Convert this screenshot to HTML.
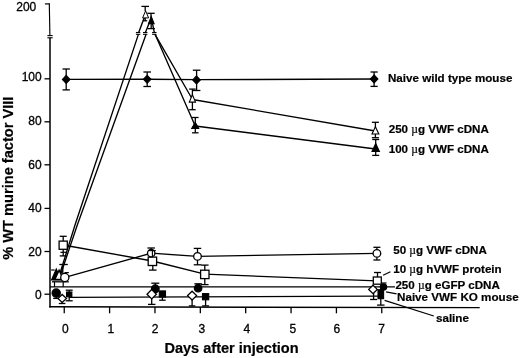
<!DOCTYPE html>
<html><head><meta charset="utf-8"><title>Chart</title>
<style>
html,body{margin:0;padding:0;background:#fff;}
body{width:520px;height:358px;overflow:hidden;font-family:"Liberation Sans",sans-serif;}
svg{display:block;will-change:transform;}
svg text{font-family:"Liberation Sans",sans-serif;fill:#000;}
</style></head><body>
<svg width="520" height="358" viewBox="0 0 520 358">
<rect width="520" height="358" fill="#fff"/>
<line x1="49.3" y1="3.6" x2="49.9" y2="35.6" stroke="#000" stroke-width="1.15"/>
<line x1="50.0" y1="37.8" x2="50.0" y2="307.6" stroke="#000" stroke-width="1.5"/>
<line x1="47.4" y1="35.6" x2="52.7" y2="35.6" stroke="#000" stroke-width="1.1"/>
<line x1="47.4" y1="37.8" x2="52.7" y2="37.8" stroke="#000" stroke-width="1.1"/>
<line x1="49.3" y1="306.8" x2="479.7" y2="307.6" stroke="#000" stroke-width="1.4"/>
<line x1="44.5" y1="294.2" x2="50.0" y2="294.2" stroke="#000" stroke-width="1.3"/>
<text x="41.7" y="298.7" font-size="12" font-weight="normal" text-anchor="end" stroke="#000" stroke-width="0.3" >0</text>
<line x1="44.5" y1="251.5" x2="50.0" y2="251.5" stroke="#000" stroke-width="1.3"/>
<text x="41.7" y="255.8" font-size="12" font-weight="normal" text-anchor="end" stroke="#000" stroke-width="0.3" >20</text>
<line x1="44.5" y1="208.4" x2="50.0" y2="208.4" stroke="#000" stroke-width="1.3"/>
<text x="41.7" y="211.6" font-size="12" font-weight="normal" text-anchor="end" stroke="#000" stroke-width="0.3" >40</text>
<line x1="44.5" y1="164.8" x2="50.0" y2="164.8" stroke="#000" stroke-width="1.3"/>
<text x="41.7" y="168.5" font-size="12" font-weight="normal" text-anchor="end" stroke="#000" stroke-width="0.3" >60</text>
<line x1="44.5" y1="121.8" x2="50.0" y2="121.8" stroke="#000" stroke-width="1.3"/>
<text x="41.7" y="124.9" font-size="12" font-weight="normal" text-anchor="end" stroke="#000" stroke-width="0.3" >80</text>
<line x1="44.5" y1="78.8" x2="50.0" y2="78.8" stroke="#000" stroke-width="1.3"/>
<text x="41.7" y="81.3" font-size="12" font-weight="normal" text-anchor="end" stroke="#000" stroke-width="0.3" >100</text>
<line x1="44.9" y1="3.9" x2="49.8" y2="3.9" stroke="#000" stroke-width="1.2"/>
<text x="36.3" y="10.6" font-size="12" font-weight="normal" text-anchor="end" stroke="#000" stroke-width="0.3" >200</text>
<line x1="64.25" y1="307" x2="64.25" y2="313.3" stroke="#000" stroke-width="1.3"/>
<text x="65.3" y="332.5" font-size="12" font-weight="normal" text-anchor="middle" stroke="#000" stroke-width="0.3" >0</text>
<line x1="109.61" y1="307" x2="109.61" y2="313.3" stroke="#000" stroke-width="1.3"/>
<text x="110.8" y="332.5" font-size="12" font-weight="normal" text-anchor="middle" stroke="#000" stroke-width="0.3" >1</text>
<line x1="154.97" y1="307" x2="154.97" y2="313.3" stroke="#000" stroke-width="1.3"/>
<text x="155.0" y="332.5" font-size="12" font-weight="normal" text-anchor="middle" stroke="#000" stroke-width="0.3" >2</text>
<line x1="200.32999999999998" y1="307" x2="200.32999999999998" y2="313.3" stroke="#000" stroke-width="1.3"/>
<text x="201.8" y="332.5" font-size="12" font-weight="normal" text-anchor="middle" stroke="#000" stroke-width="0.3" >3</text>
<line x1="245.69" y1="307" x2="245.69" y2="313.3" stroke="#000" stroke-width="1.3"/>
<text x="246.9" y="332.5" font-size="12" font-weight="normal" text-anchor="middle" stroke="#000" stroke-width="0.3" >4</text>
<line x1="291.05" y1="307" x2="291.05" y2="313.3" stroke="#000" stroke-width="1.3"/>
<text x="292.8" y="332.5" font-size="12" font-weight="normal" text-anchor="middle" stroke="#000" stroke-width="0.3" >5</text>
<line x1="336.40999999999997" y1="307" x2="336.40999999999997" y2="313.3" stroke="#000" stroke-width="1.3"/>
<text x="336.9" y="332.5" font-size="12" font-weight="normal" text-anchor="middle" stroke="#000" stroke-width="0.3" >6</text>
<line x1="381.77" y1="307" x2="381.77" y2="313.3" stroke="#000" stroke-width="1.3"/>
<text x="381.6" y="332.5" font-size="12" font-weight="normal" text-anchor="middle" stroke="#000" stroke-width="0.3" >7</text>
<text x="231.5" y="352.5" font-size="14.55" font-weight="bold" text-anchor="middle" stroke="#000" stroke-width="0.2" >Days after injection</text>
<text transform="translate(13.4,178.2) rotate(-90)" font-size="14.6" font-weight="bold" text-anchor="middle" stroke="#000" stroke-width="0.2">% WT murine factor VIII</text>
<line x1="50.0" y1="286.9" x2="395" y2="286.9" stroke="#000" stroke-width="1.3"/>
<line x1="69" y1="297.4" x2="378" y2="296.2" stroke="#000" stroke-width="1.3"/>
<polyline points="66.2,79.3 147.2,79.2 196.5,79.7 374.1,79" fill="none" stroke="#000" stroke-width="1.35" stroke-linejoin="round"/>
<line x1="66.2" y1="69" x2="66.2" y2="89.9" stroke="#000" stroke-width="1.3"/>
<line x1="62.5" y1="69" x2="69.9" y2="69" stroke="#000" stroke-width="1.3"/>
<line x1="62.5" y1="89.9" x2="69.9" y2="89.9" stroke="#000" stroke-width="1.3"/>
<line x1="147.2" y1="72" x2="147.2" y2="86.5" stroke="#000" stroke-width="1.3"/>
<line x1="143.39999999999998" y1="72" x2="151.0" y2="72" stroke="#000" stroke-width="1.3"/>
<line x1="143.39999999999998" y1="86.5" x2="151.0" y2="86.5" stroke="#000" stroke-width="1.3"/>
<line x1="196.6" y1="70.2" x2="196.6" y2="90.5" stroke="#000" stroke-width="1.3"/>
<line x1="192.79999999999998" y1="70.2" x2="200.4" y2="70.2" stroke="#000" stroke-width="1.3"/>
<line x1="192.79999999999998" y1="90.5" x2="200.4" y2="90.5" stroke="#000" stroke-width="1.3"/>
<line x1="374.1" y1="72" x2="374.1" y2="86.4" stroke="#000" stroke-width="1.3"/>
<line x1="370.5" y1="72" x2="377.70000000000005" y2="72" stroke="#000" stroke-width="1.3"/>
<line x1="370.5" y1="86.4" x2="377.70000000000005" y2="86.4" stroke="#000" stroke-width="1.3"/>
<polygon points="66.2,75.4 70.0,79.4 66.2,83.4 62.400000000000006,79.4" fill="#000" stroke="#000" stroke-width="1.1"/>
<polygon points="147.2,75.3 151.0,79.3 147.2,83.3 143.39999999999998,79.3" fill="#000" stroke="#000" stroke-width="1.1"/>
<polygon points="196.5,75.9 200.3,79.9 196.5,83.9 192.7,79.9" fill="#000" stroke="#000" stroke-width="1.1"/>
<polygon points="374.1,75.0 377.90000000000003,79 374.1,83.0 370.3,79" fill="#000" stroke="#000" stroke-width="1.1"/>
<polyline points="59.8,274 75,225 138.4,34.4" fill="none" stroke="#000" stroke-width="1.35" stroke-linejoin="round"/>
<polyline points="138.7,32.4 144.5,17" fill="none" stroke="#000" stroke-width="1.35" stroke-linejoin="round"/>
<polyline points="155,34.4 192.5,99.5 375.4,131" fill="none" stroke="#000" stroke-width="1.35" stroke-linejoin="round"/>
<polyline points="60.8,274 77.3,225 146,34.4" fill="none" stroke="#000" stroke-width="1.35" stroke-linejoin="round"/>
<polyline points="145.4,32.4 149.6,22" fill="none" stroke="#000" stroke-width="1.35" stroke-linejoin="round"/>
<polyline points="152.5,23.5 154.3,32.4" fill="none" stroke="#000" stroke-width="1.35" stroke-linejoin="round"/>
<polyline points="155.2,34.4 195.2,126 375.7,149" fill="none" stroke="#000" stroke-width="1.35" stroke-linejoin="round"/>
<line x1="135.9" y1="32.5" x2="140.29999999999998" y2="32.5" stroke="#000" stroke-width="1.1"/>
<line x1="135.9" y1="34.3" x2="140.29999999999998" y2="34.3" stroke="#000" stroke-width="1.1"/>
<line x1="143.0" y1="32.5" x2="147.39999999999998" y2="32.5" stroke="#000" stroke-width="1.1"/>
<line x1="143.0" y1="34.3" x2="147.39999999999998" y2="34.3" stroke="#000" stroke-width="1.1"/>
<line x1="152.10000000000002" y1="32.5" x2="156.5" y2="32.5" stroke="#000" stroke-width="1.1"/>
<line x1="152.10000000000002" y1="34.3" x2="156.5" y2="34.3" stroke="#000" stroke-width="1.1"/>
<line x1="145.2" y1="6.4" x2="145.2" y2="11" stroke="#000" stroke-width="1.3"/>
<line x1="141.39999999999998" y1="6.4" x2="149.0" y2="6.4" stroke="#000" stroke-width="1.3"/>
<line x1="145.2" y1="18" x2="145.2" y2="20.8" stroke="#000" stroke-width="1.3"/>
<line x1="143.2" y1="20.8" x2="147.2" y2="20.8" stroke="#000" stroke-width="1.3"/>
<line x1="151" y1="13.3" x2="151" y2="18" stroke="#000" stroke-width="1.3"/>
<line x1="147.3" y1="13.3" x2="154.7" y2="13.3" stroke="#000" stroke-width="1.3"/>
<line x1="151.2" y1="24" x2="151.2" y2="28.6" stroke="#000" stroke-width="1.3"/>
<line x1="147.5" y1="28.6" x2="154.89999999999998" y2="28.6" stroke="#000" stroke-width="1.3"/>
<line x1="192.4" y1="89.1" x2="192.4" y2="109.7" stroke="#000" stroke-width="1.3"/>
<line x1="189.15" y1="89.1" x2="195.65" y2="89.1" stroke="#000" stroke-width="1.3"/>
<line x1="189.15" y1="109.7" x2="195.65" y2="109.7" stroke="#000" stroke-width="1.3"/>
<line x1="195.3" y1="117.5" x2="195.3" y2="132.8" stroke="#000" stroke-width="1.3"/>
<line x1="192.05" y1="117.5" x2="198.55" y2="117.5" stroke="#000" stroke-width="1.3"/>
<line x1="192.05" y1="132.8" x2="198.55" y2="132.8" stroke="#000" stroke-width="1.3"/>
<line x1="375.4" y1="122.3" x2="375.4" y2="137.7" stroke="#000" stroke-width="1.3"/>
<line x1="371.9" y1="122.3" x2="378.9" y2="122.3" stroke="#000" stroke-width="1.3"/>
<line x1="371.9" y1="137.7" x2="378.9" y2="137.7" stroke="#000" stroke-width="1.3"/>
<line x1="375.7" y1="139.5" x2="375.7" y2="155.4" stroke="#000" stroke-width="1.3"/>
<line x1="372.2" y1="139.5" x2="379.2" y2="139.5" stroke="#000" stroke-width="1.3"/>
<line x1="372.2" y1="155.4" x2="379.2" y2="155.4" stroke="#000" stroke-width="1.3"/>
<polygon points="145.6,10.8 148.6,17.9 142.6,17.9" fill="#fff" stroke="#000" stroke-width="1.0" stroke-linejoin="miter"/>
<polygon points="151.3,16.6 154.10000000000002,23.6 148.5,23.6" fill="#000" stroke="#000" stroke-width="1.1" stroke-linejoin="miter"/>
<polygon points="192.4,94.7 195.5,102.1 189.3,102.1" fill="#fff" stroke="#000" stroke-width="1.1" stroke-linejoin="miter"/>
<polygon points="195.2,122.3 198.7,128.4 191.7,128.4" fill="#000" stroke="#000" stroke-width="1.1" stroke-linejoin="miter"/>
<polygon points="375.4,126.8 378.79999999999995,134 372.0,134" fill="#fff" stroke="#000" stroke-width="1.1" stroke-linejoin="miter"/>
<polygon points="375.7,143.6 379.4,151.5 372.0,151.5" fill="#000" stroke="#000" stroke-width="1.1" stroke-linejoin="miter"/>
<polyline points="63.2,245 152.4,261 204.8,274.2 376.7,280.8" fill="none" stroke="#000" stroke-width="1.35" stroke-linejoin="round"/>
<line x1="63.2" y1="236.3" x2="63.2" y2="255.9" stroke="#000" stroke-width="1.3"/>
<line x1="59.7" y1="236.3" x2="66.7" y2="236.3" stroke="#000" stroke-width="1.3"/>
<line x1="59.7" y1="255.9" x2="66.7" y2="255.9" stroke="#000" stroke-width="1.3"/>
<line x1="60.4" y1="252.3" x2="66" y2="252.3" stroke="#000" stroke-width="1.2"/>
<line x1="152.8" y1="262" x2="152.8" y2="270.1" stroke="#000" stroke-width="1.3"/>
<line x1="149.05" y1="270.1" x2="156.55" y2="270.1" stroke="#000" stroke-width="1.3"/>
<line x1="204.8" y1="265.1" x2="204.8" y2="284.6" stroke="#000" stroke-width="1.3"/>
<line x1="201.05" y1="265.1" x2="208.55" y2="265.1" stroke="#000" stroke-width="1.3"/>
<line x1="201.05" y1="284.6" x2="208.55" y2="284.6" stroke="#000" stroke-width="1.3"/>
<line x1="377.5" y1="272.5" x2="377.5" y2="278" stroke="#000" stroke-width="1.3"/>
<line x1="374.0" y1="272.5" x2="381.0" y2="272.5" stroke="#000" stroke-width="1.3"/>
<polyline points="65,277.3 151.2,253.2 197.5,256.4 376.9,253.3" fill="none" stroke="#000" stroke-width="1.35" stroke-linejoin="round"/>
<line x1="197.5" y1="248.4" x2="197.5" y2="264.8" stroke="#000" stroke-width="1.3"/>
<line x1="193.75" y1="248.4" x2="201.25" y2="248.4" stroke="#000" stroke-width="1.3"/>
<line x1="193.75" y1="264.8" x2="201.25" y2="264.8" stroke="#000" stroke-width="1.3"/>
<line x1="376.9" y1="247.3" x2="376.9" y2="260" stroke="#000" stroke-width="1.3"/>
<line x1="373.4" y1="247.3" x2="380.4" y2="247.3" stroke="#000" stroke-width="1.3"/>
<line x1="373.4" y1="260" x2="380.4" y2="260" stroke="#000" stroke-width="1.3"/>
<line x1="52" y1="281.8" x2="68.8" y2="281.8" stroke="#000" stroke-width="1.3"/>
<line x1="54.5" y1="281.8" x2="54.5" y2="287" stroke="#000" stroke-width="1.2"/>
<line x1="63.2" y1="281.8" x2="63.2" y2="287" stroke="#000" stroke-width="1.2"/>
<line x1="59.3" y1="264.5" x2="67.8" y2="264.5" stroke="#000" stroke-width="1.3"/>
<line x1="62.8" y1="264.5" x2="62.8" y2="274" stroke="#000" stroke-width="1.3"/>
<line x1="64.5" y1="272.6" x2="68.8" y2="272.6" stroke="#000" stroke-width="1.2"/>
<line x1="51.2" y1="270" x2="54.6" y2="270" stroke="#000" stroke-width="1.2"/>
<polygon points="56.3,269 61.099999999999994,280 51.5,280" fill="#000" stroke="#000" stroke-width="1.1" stroke-linejoin="miter"/>
<polygon points="59.1,270.2 63.4,279.5 54.800000000000004,279.5" fill="#fff" stroke="#000" stroke-width="1.5" stroke-linejoin="miter"/>
<rect x="59.1" y="241.1" width="8.2" height="8.2" fill="#fff" stroke="#000" stroke-width="1.3"/>
<circle cx="64.8" cy="277.5" r="4.1" fill="#fff" stroke="#000" stroke-width="1.3"/>
<line x1="56.2" y1="294" x2="56.2" y2="298.4" stroke="#000" stroke-width="1.3"/>
<line x1="53.2" y1="298.4" x2="59.2" y2="298.4" stroke="#000" stroke-width="1.3"/>
<line x1="62.1" y1="299" x2="62.1" y2="303.5" stroke="#000" stroke-width="1.3"/>
<line x1="58.800000000000004" y1="303.5" x2="65.4" y2="303.5" stroke="#000" stroke-width="1.3"/>
<line x1="69.2" y1="290.2" x2="69.2" y2="300.8" stroke="#000" stroke-width="1.3"/>
<line x1="65.7" y1="290.2" x2="72.7" y2="290.2" stroke="#000" stroke-width="1.3"/>
<line x1="65.7" y1="300.8" x2="72.7" y2="300.8" stroke="#000" stroke-width="1.3"/>
<circle cx="56.2" cy="293.1" r="4.2" fill="#000" stroke="#000" stroke-width="1.1"/>
<rect x="66.55" y="292.0" width="5.3" height="4.8" fill="#000" stroke="#000" stroke-width="1.1"/>
<polygon points="62.2,294.4 66.5,298.4 62.2,302.4 57.900000000000006,298.4" fill="#fff" stroke="#000" stroke-width="1.3"/>
<line x1="151.2" y1="248" x2="151.2" y2="252" stroke="#000" stroke-width="1.3"/>
<line x1="147.45" y1="248" x2="154.95" y2="248" stroke="#000" stroke-width="1.3"/>
<rect x="148.20000000000002" y="257.1" width="8.4" height="8.4" fill="#fff" stroke="#000" stroke-width="1.3"/>
<circle cx="151.2" cy="253.2" r="3.7" fill="#fff" stroke="#000" stroke-width="1.3"/>
<line x1="152.4" y1="250.6" x2="152.4" y2="257" stroke="#000" stroke-width="1.1"/>
<line x1="149" y1="250.6" x2="155.8" y2="250.6" stroke="#000" stroke-width="1.1"/>
<line x1="155.3" y1="283.2" x2="155.3" y2="288" stroke="#000" stroke-width="1.3"/>
<line x1="151.3" y1="283.2" x2="159.3" y2="283.2" stroke="#000" stroke-width="1.3"/>
<line x1="162.4" y1="294" x2="162.4" y2="300.2" stroke="#000" stroke-width="1.3"/>
<line x1="159.15" y1="300.2" x2="165.65" y2="300.2" stroke="#000" stroke-width="1.3"/>
<line x1="151.7" y1="295" x2="151.7" y2="304.4" stroke="#000" stroke-width="1.3"/>
<line x1="147.95" y1="304.4" x2="155.45" y2="304.4" stroke="#000" stroke-width="1.3"/>
<circle cx="155.3" cy="288.8" r="3.9" fill="#000" stroke="#000" stroke-width="1.1"/>
<rect x="159.3" y="290.9" width="6.2" height="6.2" fill="#000" stroke="#000" stroke-width="1.1"/>
<polygon points="151.7,289.5 156.39999999999998,294.2 151.7,298.9 147.0,294.2" fill="#fff" stroke="#000" stroke-width="1.3"/>
<rect x="200.60000000000002" y="270.2" width="8.4" height="8.4" fill="#fff" stroke="#000" stroke-width="1.3"/>
<circle cx="197.5" cy="256.4" r="3.8" fill="#fff" stroke="#000" stroke-width="1.3"/>
<line x1="198.1" y1="283.8" x2="198.1" y2="288" stroke="#000" stroke-width="1.3"/>
<line x1="194.35" y1="283.8" x2="201.85" y2="283.8" stroke="#000" stroke-width="1.3"/>
<line x1="205.6" y1="297" x2="205.6" y2="305.9" stroke="#000" stroke-width="1.3"/>
<line x1="202.1" y1="305.9" x2="209.1" y2="305.9" stroke="#000" stroke-width="1.3"/>
<line x1="192.1" y1="296" x2="192.1" y2="305.9" stroke="#000" stroke-width="1.3"/>
<line x1="188.85" y1="305.9" x2="195.35" y2="305.9" stroke="#000" stroke-width="1.3"/>
<circle cx="198.1" cy="288.2" r="3.8" fill="#000" stroke="#000" stroke-width="1.1"/>
<rect x="202.5" y="293.59999999999997" width="6.2" height="6.2" fill="#000" stroke="#000" stroke-width="1.1"/>
<polygon points="192.1,291.20000000000005 196.6,295.6 192.1,300.0 187.6,295.6" fill="#fff" stroke="#000" stroke-width="1.3"/>
<circle cx="376.9" cy="253.4" r="3.8" fill="#fff" stroke="#000" stroke-width="1.3"/>
<rect x="373.3" y="277.0" width="8.0" height="7.2" fill="#fff" stroke="#000" stroke-width="1.3"/>
<line x1="373.6" y1="291" x2="373.6" y2="299.5" stroke="#000" stroke-width="1.3"/>
<line x1="370.1" y1="299.5" x2="377.1" y2="299.5" stroke="#000" stroke-width="1.3"/>
<line x1="380.8" y1="295" x2="380.8" y2="305.1" stroke="#000" stroke-width="1.3"/>
<line x1="377.05" y1="305.1" x2="384.55" y2="305.1" stroke="#000" stroke-width="1.3"/>
<line x1="382" y1="283" x2="386.5" y2="283" stroke="#000" stroke-width="1.2"/>
<circle cx="383.5" cy="286.9" r="3.2" fill="#000" stroke="#000" stroke-width="1.1"/>
<rect x="378.0" y="289.7" width="5.6" height="9.0" fill="#000" stroke="#000" stroke-width="1.1"/>
<polygon points="373,285.2 377.3,289.4 373,293.59999999999997 368.7,289.4" fill="#fff" stroke="#000" stroke-width="1.3"/>
<line x1="383.1" y1="275.3" x2="390.4" y2="271.7" stroke="#000" stroke-width="1.2"/>
<line x1="386" y1="291.8" x2="396.6" y2="293.9" stroke="#000" stroke-width="1.2"/>
<line x1="384.6" y1="300.4" x2="433.8" y2="316" stroke="#000" stroke-width="1.2"/>
<text x="388.0" y="82" font-size="11.6" font-weight="bold" text-anchor="start" stroke="#000" stroke-width="0.2" >Naive wild type mouse</text>
<text x="388.7" y="132.9" font-size="11.6" font-weight="bold" text-anchor="start" stroke="#000" stroke-width="0.2" >250 <tspan font-family="Liberation Serif" font-weight="normal">µ</tspan>g VWF cDNA</text>
<text x="388.7" y="152.6" font-size="11.6" font-weight="bold" text-anchor="start" stroke="#000" stroke-width="0.2" >100 <tspan font-family="Liberation Serif" font-weight="normal">µ</tspan>g VWF cDNA</text>
<text x="393.2" y="253.9" font-size="11.6" font-weight="bold" text-anchor="start" stroke="#000" stroke-width="0.2" >50 <tspan font-family="Liberation Serif" font-weight="normal">µ</tspan>g VWF cDNA</text>
<text x="393.2" y="273" font-size="11.6" font-weight="bold" text-anchor="start" stroke="#000" stroke-width="0.2" >10 <tspan font-family="Liberation Serif" font-weight="normal">µ</tspan>g hVWF protein</text>
<text x="395.4" y="289.3" font-size="11.6" font-weight="bold" text-anchor="start" stroke="#000" stroke-width="0.2" >250 <tspan font-family="Liberation Serif" font-weight="normal">µ</tspan>g eGFP cDNA</text>
<text x="397" y="301.3" font-size="11.65" font-weight="bold" text-anchor="start" stroke="#000" stroke-width="0.2" >Naive VWF KO mouse</text>
<text x="436" y="321.6" font-size="11.6" font-weight="bold" text-anchor="start" stroke="#000" stroke-width="0.2" >saline</text>
</svg>
</body></html>
